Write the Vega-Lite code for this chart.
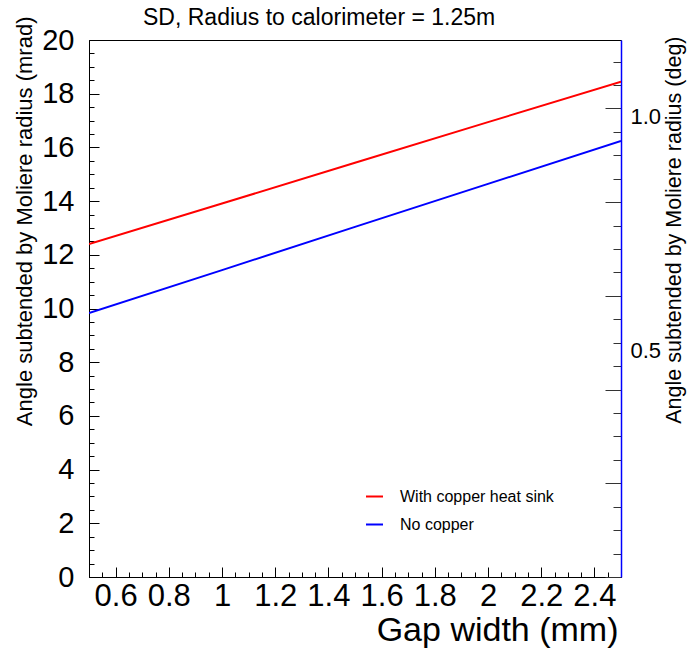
{
  "$schema": "https://vega.github.io/schema/vega-lite/v6.json",
  "width": 532,
  "height": 537,
  "autosize": {"type": "none"},
  "padding": {"left": 89, "top": 40, "right": 75, "bottom": 72},
  "background": "white",
  "config": {
    "font": "Liberation Sans",
    "view": {"stroke": "black", "strokeWidth": 1},
    "axis": {"grid": false, "domainColor": "black", "tickColor": "black", "labelColor": "black", "titleColor": "black", "labelFont": "Liberation Sans", "titleFont": "Liberation Sans", "titleFontWeight": "normal", "labelFlush": false, "labelOverlap": false}
  },
  "title": {"text": "SD, Radius to calorimeter = 1.25m", "anchor": "start", "frame": "group", "dx": 54, "offset": -32, "fontSize": 23, "fontWeight": "normal", "font": "Liberation Sans", "color": "black", "baseline": "alphabetic"},
  "data": {"values": [
    {"gap": 0.5, "angle": 12.40, "series": "With copper heat sink"},
    {"gap": 1.0, "angle": 13.91, "series": "With copper heat sink"},
    {"gap": 1.5, "angle": 15.43, "series": "With copper heat sink"},
    {"gap": 2.0, "angle": 16.94, "series": "With copper heat sink"},
    {"gap": 2.5, "angle": 18.45, "series": "With copper heat sink"},
    {"gap": 0.5, "angle": 9.83, "series": "No copper"},
    {"gap": 1.0, "angle": 11.43, "series": "No copper"},
    {"gap": 1.5, "angle": 13.04, "series": "No copper"},
    {"gap": 2.0, "angle": 14.64, "series": "No copper"},
    {"gap": 2.5, "angle": 16.24, "series": "No copper"}
  ]},
  "encoding": {
    "x": {"field": "gap", "type": "quantitative", "scale": {"domain": [0.5, 2.5], "nice": false, "zero": false},
      "axis": {"title": "Gap width (mm)", "titleFontSize": 34, "titleAnchor": "end", "titleAlign": "right", "titleX": 529, "titleY": 63, "titleBaseline": "alphabetic",
        "values": [0.5,0.55,0.6,0.65,0.7,0.75,0.8,0.85,0.9,0.95,1.0,1.05,1.1,1.15,1.2,1.25,1.3,1.35,1.4,1.45,1.5,1.55,1.6,1.65,1.7,1.75,1.8,1.85,1.9,1.95,2.0,2.05,2.1,2.15,2.2,2.25,2.3,2.35,2.4,2.45,2.5],
        "labelExpr": "abs(datum.value*5 - round(datum.value*5)) < 0.001 ? toString(round(datum.value*10)/10) : ''",
        "tickSize": {"condition": {"test": "abs(datum.value*5 - round(datum.value*5)) < 0.001", "value": -10}, "value": -5},
        "labelFontSize": 31, "labelPadding": 14, "labelBaseline": "top"}}
  },
  "layer": [
    {
      "mark": {"type": "line", "strokeWidth": 2, "clip": true},
      "encoding": {
        "y": {"field": "angle", "type": "quantitative", "scale": {"domain": [0, 20], "nice": false, "zero": true},
          "axis": {"title": "Angle subtended by Moliere radius (mrad)", "titleFontSize": 22, "titleAngle": -90, "titleAlign": "right", "titleBaseline": "top", "titleX": -75, "titleY": -24,
            "values": [0,0.5,1,1.5,2,2.5,3,3.5,4,4.5,5,5.5,6,6.5,7,7.5,8,8.5,9,9.5,10,10.5,11,11.5,12,12.5,13,13.5,14,14.5,15,15.5,16,16.5,17,17.5,18,18.5,19,19.5,20],
            "labelExpr": "datum.value % 2 == 0 ? toString(datum.value) : ''",
            "tickSize": {"condition": {"test": "datum.value % 2 == 0", "value": -10}, "value": -5},
            "labelFontSize": 29, "labelPadding": 25}},
        "color": {"field": "series", "type": "nominal",
          "scale": {"domain": ["With copper heat sink", "No copper"], "range": ["#ff0000", "#0000ff"]},
          "legend": {"title": null, "orient": "none", "legendX": 276, "legendY": 447, "symbolType": "stroke", "symbolSize": 289, "symbolStrokeWidth": 2, "labelFontSize": 16, "labelOffset": 16, "rowPadding": 10, "padding": 0, "labelFont": "Liberation Sans", "labelColor": "black"}}
      }
    },
    {
      "mark": {"type": "line", "strokeOpacity": 0, "clip": true},
      "encoding": {
        "y": {"field": "angle", "type": "quantitative", "scale": {"domain": [0, 20], "nice": false, "zero": true},
          "axis": {"orient": "right", "domainColor": "#0000ff", "domainWidth": 1.5,
            "title": "Angle subtended by Moliere radius (deg)", "titleFontSize": 21.5, "titleAngle": -90, "titleAlign": "right", "titleBaseline": "top", "titleX": 42, "titleY": -4,
            "values": [0,0.872665,1.74533,2.617994,3.490659,4.363323,5.235988,6.108652,6.981317,7.853982,8.726646,9.599311,10.471976,11.34464,12.217305,13.089969,13.962634,14.835299,15.707963,16.580628,17.453293,18.325957,19.198622],
            "labelExpr": "round(datum.value/0.872665) == 10 ? '0.5' : (round(datum.value/0.872665) == 20 ? '1.0' : '')",
            "tickSize": {"condition": {"test": "round(datum.value/0.872665) % 4 == 0", "value": -16}, "value": -8},
            "labelPadding": {"condition": {"test": "round(datum.value/0.872665) % 4 == 0", "value": 25}, "value": 17},
            "tickColor": "#333333",
            "labelFontSize": 22, "labelBaseline": "alphabetic", "labelOffset": 15}}
      }
    }
  ],
  "resolve": {"scale": {"y": "independent"}, "axis": {"y": "independent"}}
}
